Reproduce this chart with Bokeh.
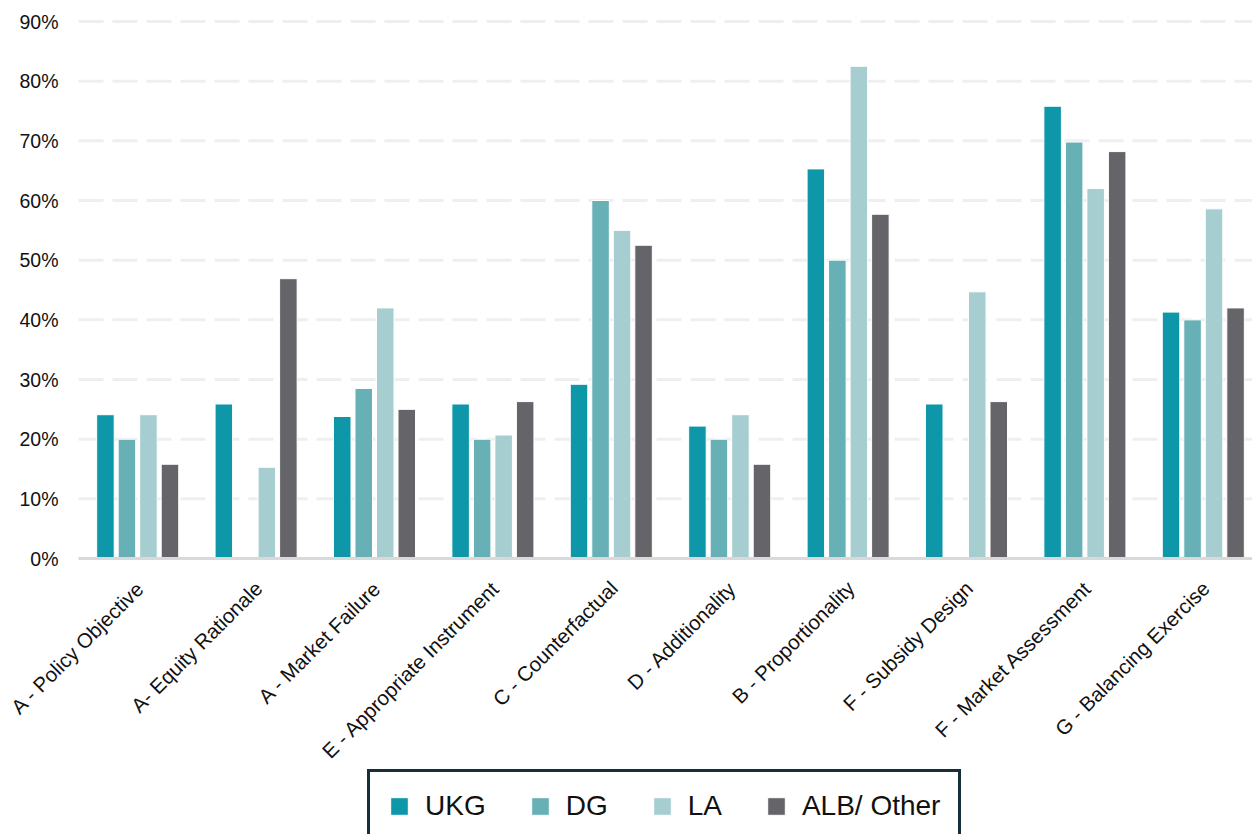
import numpy as np
from bokeh.plotting import figure
from bokeh.models import ColumnDataSource, Range1d, Legend, LegendItem
from bokeh.core.properties import value
from bokeh.embed import file_html
from bokeh.resources import INLINE

# Assessment principles (x axis) and share of schemes per authority type (%)
categories = [
    "A - Policy Objective", "A- Equity Rationale", "A - Market Failure",
    "E - Appropriate Instrument", "C - Counterfactual", "D - Additionality",
    "B - Proportionality", "F - Subsidy Design", "F - Market Assessment",
    "G - Balancing Exercise",
]
ukg = [24.1, 25.9, 23.8, 25.9, 29.2, 22.2, 65.3, 25.9, 75.8, 41.3]
dg = [20.0, 0.0, 28.5, 20.0, 60.0, 20.0, 50.0, 0.0, 69.8, 40.0]
la = [24.1, 15.3, 42.0, 20.7, 55.0, 24.1, 82.5, 44.7, 62.0, 58.6]
alb = [15.8, 46.9, 25.0, 26.3, 52.5, 15.8, 57.7, 26.3, 68.2, 42.0]

series_names = ["UKG", "DG", "LA", "ALB/ Other"]
series_values = [ukg, dg, la, alb]
colors = ["#0E97A9", "#67B0B5", "#A6CDCF", "#656469"]
y_ticks = [0, 10, 20, 30, 40, 50, 60, 70, 80, 90]
y_tick_labels = [f"{t}%" for t in y_ticks]

FONT = "Liberation Sans"

# Plot area spans the whole canvas; the value axis, category labels and
# legend are all drawn inside it around the bar region.
X_START, X_END = -1.1588, 9.4155
AXIS_X = -0.5
p = figure(frame_width=1252, frame_height=834, output_backend="svg", toolbar_location=None,
           x_range=Range1d(X_START, X_END), y_range=Range1d(-46.25, 93.52),
           min_border=0)
p.outline_line_color = None
p.background_fill_color = "white"
p.border_fill_color = "white"
p.axis.visible = False
p.grid.visible = False

# dashed gridlines
grid_src = ColumnDataSource(dict(x0=[AXIS_X] * (len(y_ticks) - 1), x1=[X_END] * (len(y_ticks) - 1),
                                 y=y_ticks[1:]))
p.segment(x0="x0", y0="y", x1="x1", y1="y", source=grid_src,
          line_color="#EFEFEF", line_width=3, line_dash="25 9")

# value axis labels
ytick_src = ColumnDataSource(dict(x=[AXIS_X] * len(y_ticks), y=y_ticks, text=y_tick_labels))
p.text(x="x", y="y", text="text", source=ytick_src, x_offset=-20,
       text_align="right", text_baseline="middle",
       text_font=value(FONT), text_font_size="19.5px", text_color="#111111")

pos = np.arange(len(categories))
offsets = [-0.2725, -0.0908, 0.0908, 0.2725]
renderers = []
for name, vals, col, off in zip(series_names, series_values, colors, offsets):
    src = ColumnDataSource(dict(x=pos + off, top=vals))
    r = p.vbar(x="x", top="top", width=0.148, source=src, fill_color=col,
               line_color="white", line_width=1)
    renderers.append(r)

# solid zero line on top of the bar bases
p.segment(x0=[AXIS_X], y0=[0], x1=[X_END], y1=[0], line_color="#D9D9D9", line_width=3)

# slanted category labels under each group
label_src = ColumnDataSource(dict(x=pos, y=[0] * len(categories), text=categories))
p.text(x="x", y="y", text="text", source=label_src, angle=np.pi / 4,
       text_align="right", text_baseline="middle", x_offset=2.5, y_offset=26,
       text_font=value(FONT), text_font_size="20.5px", text_color="#111111")

legend = Legend(
    items=[LegendItem(label=n, renderers=[r]) for n, r in zip(series_names, renderers)],
    orientation="horizontal", location=(367, -9),
    label_text_font=FONT, label_text_font_size="28px", label_text_color="#111111",
    glyph_width=22, glyph_height=22, label_standoff=15, spacing=43,
    padding=18, margin=0,
    border_line_color="#14303D", border_line_width=3, border_line_alpha=1,
    background_fill_color="white", background_fill_alpha=1,
)
p.add_layout(legend, "center")

open("out.html", "w").write(file_html(p, INLINE))
